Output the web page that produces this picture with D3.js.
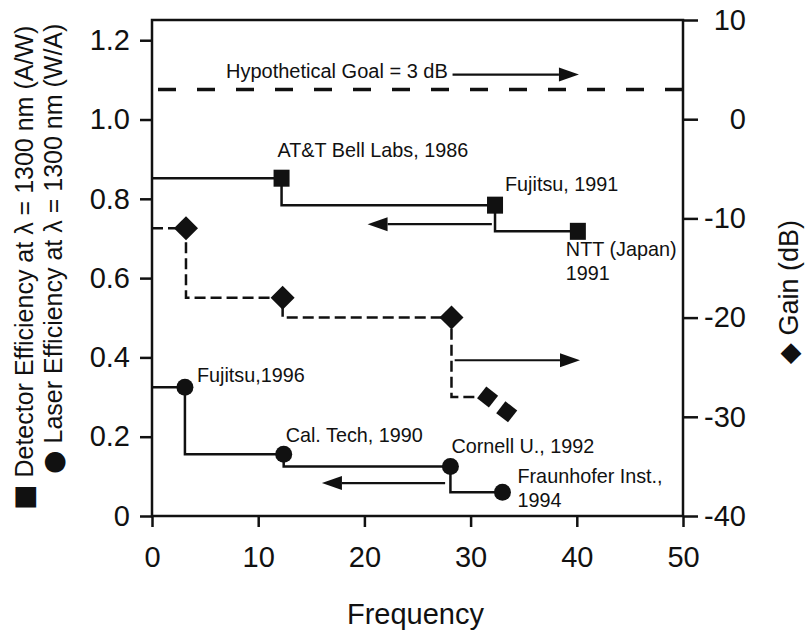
<!DOCTYPE html>
<html>
<head>
<meta charset="utf-8">
<script src="https://cdn.jsdelivr.net/npm/d3@7"></script>
<style>
  body { margin: 0; background: #fff; }
  svg { font-family: "Liberation Sans", Arial, Helvetica, sans-serif; }
  .tick text { font-size: 29px; fill: #111; }
</style>
</head>
<body>
<svg width="806" height="635"></svg>
<script>
// detector efficiency (A/W), squares
var detFreq = [12.2, 32.3, 40.1];
var detEff = [0.852, 0.784, 0.718];
var detNames = ["AT&T Bell Labs, 1986", "Fujitsu, 1991", "NTT (Japan)|1991"];

// laser efficiency (W/A), circles
var laserFreq = [3.1, 12.4, 28.1, 33.0];
var laserEff = [0.325, 0.156, 0.125, 0.06];
var laserNames = ["Fujitsu,1996", "Cal. Tech, 1990", "Cornell U., 1992", "Fraunhofer Inst.,|1994"];

// gain (dB), diamonds
var gainFreq = [3.2, 12.3, 28.2, 31.6, 33.4];
var gainDb = [-11, -18, -20, -28, -29.5];

var goalDb = 3;
var xTicks = [0, 10, 20, 30, 40, 50];
var yTicks = [0, 0.2, 0.4, 0.6, 0.8, 1.0, 1.2];
var y2Ticks = [-40, -30, -20, -10, 0, 10];

var svg = d3.select("svg");
var pLeft = 152, pRight = 683, pTop = 20, pBottom = 516;

var x = d3.scaleLinear().domain([0, 50]).range([pLeft, pRight]);
var y = d3.scaleLinear().domain([0, 1.251]).range([pBottom, pTop]);
var y2 = d3.scaleLinear().domain([-40, 10]).range([pBottom, pTop]);

// axes
var xAxis = svg.append("g")
    .attr("transform", "translate(0," + pBottom + ")")
    .call(d3.axisBottom(x).tickValues(xTicks).tickFormat(d3.format("d")).tickSize(11).tickPadding(19));
var yAxis = svg.append("g")
    .attr("transform", "translate(" + pLeft + ",0)")
    .call(d3.axisLeft(y).tickValues(yTicks).tickFormat(function(d) { return d === 0 ? "0" : d3.format(".1f")(d); }).tickSize(12).tickPadding(10));
var y2Axis = svg.append("g")
    .attr("transform", "translate(" + pRight + ",0)")
    .call(d3.axisRight(y2).tickValues(y2Ticks).tickFormat(function(d) { return String(d); }).tickSize(15).tickPadding(8));

y2Axis.selectAll(".tick text").attr("text-anchor", "end").attr("x", 63);
xAxis.selectAll(".tick text").attr("dy", "0.72em");

svg.selectAll(".domain").remove();
svg.selectAll(".tick line").attr("stroke", "#111").attr("stroke-width", 2.5);

// frame
svg.append("rect")
    .attr("x", pLeft).attr("y", pTop)
    .attr("width", pRight - pLeft).attr("height", pBottom - pTop)
    .attr("fill", "none").attr("stroke", "#111").attr("stroke-width", 2.5);

// goal line
svg.append("line")
    .attr("x1", pLeft).attr("x2", pRight)
    .attr("y1", y2(goalDb)).attr("y2", y2(goalDb))
    .attr("stroke", "#111").attr("stroke-width", 3.5)
    .attr("stroke-dasharray", "18,21").attr("stroke-dashoffset", -6);

svg.append("text")
    .attr("x", 226).attr("y", y2(goalDb) - 11)
    .attr("font-size", 20).attr("fill", "#111")
    .text("Hypothetical Goal = 3 dB");

// arrows
function arrow(x0, x1, yy) {
  var dir = x1 > x0 ? 1 : -1;
  var head = 20, hw = 7;
  svg.append("line")
      .attr("x1", x0).attr("x2", x1 - dir * head).attr("y1", yy).attr("y2", yy)
      .attr("stroke", "#111").attr("stroke-width", 2.2);
  svg.append("path")
      .attr("d", "M" + x1 + "," + yy + "L" + (x1 - dir * head) + "," + (yy - hw) + "L" + (x1 - dir * head) + "," + (yy + hw) + "Z")
      .attr("fill", "#111");
}
arrow(x(28.3), x(40.2), y2(4.5));
arrow(x(32.0), x(20.3), y(0.736));
arrow(x(27.6), x(16.0), y(0.083));
arrow(x(28.5), x(40.3), y2(-24.3));

// step lines
var step = d3.line().curve(d3.curveStepBefore);

function stepPts(fx, fy, sx, sy) {
  var pts = [[sx(0), sy(fy[0])]];
  fx.forEach(function(f, i) { pts.push([sx(f), sy(fy[i])]); });
  return pts;
}

svg.append("path")
    .attr("d", step(stepPts(detFreq, detEff, x, y)))
    .attr("fill", "none").attr("stroke", "#111").attr("stroke-width", 2.5);

svg.append("path")
    .attr("d", step(stepPts(laserFreq, laserEff, x, y)))
    .attr("fill", "none").attr("stroke", "#111").attr("stroke-width", 2.5);

svg.append("path")
    .attr("d", step(stepPts(gainFreq.slice(0, 4), gainDb.slice(0, 4), x, y2)))
    .attr("fill", "none").attr("stroke", "#111").attr("stroke-width", 2.5)
    .attr("stroke-dasharray", "11,5");

// markers
svg.selectAll(".sq").data(detFreq).enter().append("rect")
    .attr("x", function(d) { return x(d) - 8; })
    .attr("y", function(d, i) { return y(detEff[i]) - 8.5; })
    .attr("width", 16).attr("height", 17)
    .attr("fill", "#111");

svg.selectAll(".ci").data(laserFreq).enter().append("circle")
    .attr("cx", function(d) { return x(d); })
    .attr("cy", function(d, i) { return y(laserEff[i]); })
    .attr("r", 8.5)
    .attr("fill", "#111");

svg.selectAll(".di").data(gainFreq).enter().append("rect")
    .attr("x", function(d, i) { return i < 3 ? -8.5 : -7.5; })
    .attr("y", function(d, i) { return i < 3 ? -8.5 : -7.5; })
    .attr("width", function(d, i) { return i < 3 ? 17 : 15; })
    .attr("height", function(d, i) { return i < 3 ? 17 : 15; })
    .attr("transform", function(d, i) { return "translate(" + x(d) + "," + y2(gainDb[i]) + ") rotate(" + (i < 3 ? 45 : 38) + ")"; })
    .attr("fill", "#111");

// point labels
var detOff = [[-4, -21], [10, -14], [-12, 25]];
var laserOff = [[12, -5], [2, -12], [1, -13], [15, -9]];

function labels(names, fx, fy, sy, off) {
  names.forEach(function(n, i) {
    var t = svg.append("text")
        .attr("x", x(fx[i]) + off[i][0])
        .attr("y", sy(fy[i]) + off[i][1])
        .attr("font-size", 19.8).attr("fill", "#111");
    n.split("|").forEach(function(part, j) {
      t.append("tspan").attr("x", x(fx[i]) + off[i][0]).attr("dy", j ? 24 : 0).text(part);
    });
  });
}
labels(detNames, detFreq, detEff, y, detOff);
labels(laserNames, laserFreq, laserEff, y, laserOff);

// axis titles
svg.append("text")
    .attr("x", (pLeft + pRight) / 2 - 2).attr("y", 624)
    .attr("text-anchor", "middle").attr("font-size", 29).attr("fill", "#111")
    .text("Frequency");

var t1 = svg.append("text")
    .attr("transform", "translate(33,510) rotate(-90)")
    .attr("font-size", 25).attr("fill", "#111");
t1.append("tspan").attr("font-family", "DejaVu Sans").attr("font-size", 27).text("\u25A0");
t1.append("tspan").text(" Detector  Efficiency at \u03BB = 1300 nm (A/W)");

var t2 = svg.append("text")
    .attr("transform", "translate(62,474) rotate(-90)")
    .attr("font-size", 25).attr("fill", "#111");
t2.append("tspan").attr("font-family", "DejaVu Sans").attr("font-size", 27).text("\u25CF");
t2.append("tspan").text(" Laser Efficiency at \u03BB = 1300 nm (W/A)");

svg.append("text")
    .attr("transform", "translate(798,364) rotate(-90)")
    .attr("font-size", 27).attr("fill", "#111")
    .text("\u25C6 Gain (dB)");
</script>
</body>
</html>
